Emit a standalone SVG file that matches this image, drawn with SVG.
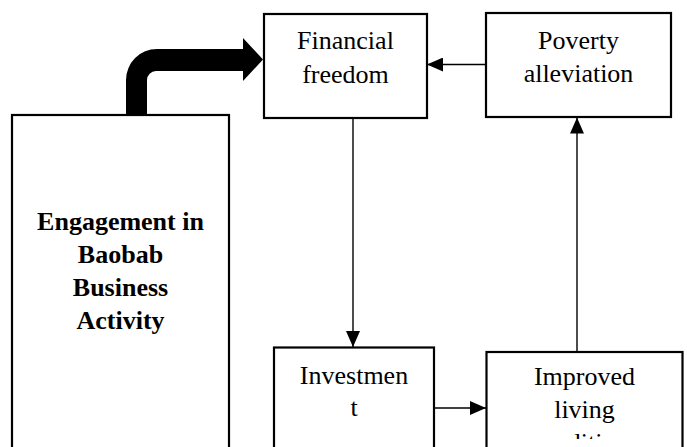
<svg xmlns="http://www.w3.org/2000/svg" width="687" height="447" viewBox="0 0 687 447">
  <style>
    .box { fill: #ffffff; stroke: #000000; stroke-width: 2.2; }
    .txt { font-family: "Liberation Serif", "Times New Roman", serif; font-size: 26px; fill: #000000; text-anchor: middle; }
    .bold { font-weight: bold; }
    .conn { stroke: #000000; stroke-width: 1.4; fill: none; marker-end: url(#arr); }
  </style>
  <defs>
    <marker id="arr" markerUnits="userSpaceOnUse" markerWidth="16" markerHeight="14" refX="16" refY="7" orient="auto">
      <path d="M0,0 L16,7 L0,14 Z" fill="#000000"/>
    </marker>
    <clipPath id="improvedClip">
      <rect x="487" y="353" width="194" height="86"/>
    </clipPath>
  </defs>
  <rect width="687" height="447" fill="#ffffff"/>

  <g id="engagement">
    <rect class="box" x="12" y="115" width="217" height="345"/>
    <text class="txt bold" x="120.5" y="230">Engagement in</text>
    <text class="txt bold" x="120.5" y="263">Baobab</text>
    <text class="txt bold" x="120.5" y="296">Business</text>
    <text class="txt bold" x="120.5" y="329">Activity</text>
  </g>

  <g id="financial-freedom">
    <rect class="box" x="264" y="14" width="163" height="104"/>
    <text class="txt" x="345.5" y="49">Financial</text>
    <text class="txt" x="345.5" y="82.5">freedom</text>
  </g>

  <g id="poverty-alleviation">
    <rect class="box" x="486" y="13" width="185" height="104"/>
    <text class="txt" x="578.5" y="48.5">Poverty</text>
    <text class="txt" x="578.5" y="81.5">alleviation</text>
  </g>

  <g id="investment">
    <rect class="box" x="274" y="347.5" width="160" height="120"/>
    <text class="txt" x="354" y="383.5">Investmen</text>
    <text class="txt" x="354" y="416">t</text>
  </g>

  <g id="improved-living">
    <rect class="box" x="486.5" y="352" width="196" height="120"/>
    <g clip-path="url(#improvedClip)">
      <text class="txt" x="584.5" y="385">Improved</text>
      <text class="txt" x="584.5" y="417.5">living</text>
      <text class="txt" x="584.5" y="451">conditions</text>
    </g>
  </g>

  <g id="connectors">
    <path d="M126,115 L126,80 A31,31 0 0 1 157,49 L243,49 L243,38 L263,59.5 L243,81 L243,71 L156,71 A9,9 0 0 0 147,80 L147,115 Z" fill="#000000"/>
    <line class="conn" x1="486" y1="64.5" x2="427" y2="64.5"/>
    <line class="conn" x1="353" y1="118" x2="353" y2="347"/>
    <line class="conn" x1="434" y1="408" x2="486" y2="408"/>
    <line class="conn" x1="577" y1="352" x2="577" y2="117.5"/>
  </g>
</svg>
